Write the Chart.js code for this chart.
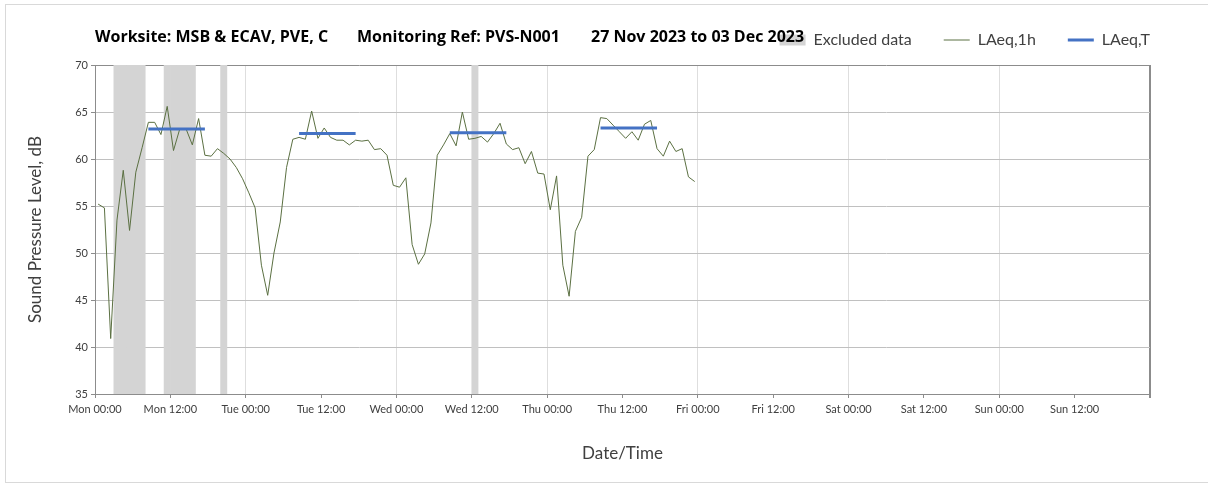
<!DOCTYPE html>
<html>
<head>
<meta charset="utf-8">
<script src="https://cdn.jsdelivr.net/npm/chart.js@4.4.0/dist/chart.umd.min.js"></script>
<style>
  html, body { margin: 0; padding: 0; background: #fff; }
  #wrap { position: relative; width: 1208px; height: 486px; }
</style>
</head>
<body>
<div id="wrap"><canvas id="chart" width="1208" height="486"></canvas></div>
<script>
// ---- data ----
const titleParts = ["Worksite: MSB & ECAV, PVE, C", "Monitoring Ref: PVS-N001", "27 Nov 2023 to 03 Dec 2023"];

const tickLabels = ["Mon 00:00", "Mon 12:00", "Tue 00:00", "Tue 12:00", "Wed 00:00", "Wed 12:00",
  "Thu 00:00", "Thu 12:00", "Fri 00:00", "Fri 12:00", "Sat 00:00", "Sat 12:00",
  "Sun 00:00", "Sun 12:00", ""];

// hourly LAeq,1h (first value sits at 00:30 on Monday)
const firstHour = 0.5;
const laeq1h = [
  55.2, 54.8, 40.9, 53.5, 58.8, 52.4, 58.6, 61.2, 63.9, 63.9,
  62.6, 65.6, 60.9, 63.2, 63.2, 61.5, 64.3, 60.4, 60.3, 61.1,
  60.6, 60.0, 59.1, 57.9, 56.4, 54.8, 48.7, 45.5, 50.0, 53.3,
  59.1, 62.1, 62.3, 62.1, 65.1, 62.2, 63.3, 62.3, 62.0, 62.0,
  61.5, 62.0, 61.9, 62.0, 61.0, 61.1, 60.4, 57.2, 57.0, 58.0,
  50.9, 48.8, 49.9, 53.2, 60.4, 61.5, 62.7, 61.4, 65.0, 62.1,
  62.2, 62.4, 61.8, 62.7, 63.8, 61.6, 61.0, 61.2, 59.5, 60.8,
  58.5, 58.4, 54.6, 58.2, 48.7, 45.4, 52.3, 53.8, 60.3, 61.0,
  64.4, 64.3, 63.6, 62.9, 62.2, 62.9, 62.0, 63.7, 64.1, 61.1,
  60.3, 61.9, 60.8, 61.1, 58.1, 57.6
];

// LAeq,T over each daytime period (hour index of first / last hourly value)
const periodStart = [8, 32, 56, 80];
const periodEnd = [17, 41, 65, 89];
const laeqT = [63.2, 62.7, 62.8, 63.3];

// hours flagged as excluded
const excludedHours = [3, 4, 5, 6, 7, 11, 12, 13, 14, 15, 20, 60];

const yMin = 35, yMax = 70;

// ---- build datasets ----
const lineData = laeq1h.map((v, i) => ({ x: firstHour + i, y: v }));

const periodData = [];
laeqT.forEach((v, i) => {
  periodData.push({ x: periodStart[i] + firstHour, y: v });
  periodData.push({ x: periodEnd[i] + firstHour, y: v });
  periodData.push({ x: periodEnd[i] + 1, y: null });
});

const excludedData = excludedHours.map(h => ({ x: h + 0.5, y: [yMin, yMax] }));

const legendStyles = ["rect", "line", "line"];

const tickVal = c => (c.tick ? c.tick.value : null);

// white card with a faint frame
const framePlugin = {
  id: "frame",
  beforeDraw(chart) {
    const ctx = chart.ctx;
    ctx.save();
    ctx.fillStyle = "#fff";
    ctx.fillRect(0, 0, chart.width, chart.height);
    ctx.strokeStyle = "#d9d9d9";
    ctx.lineWidth = 1;
    ctx.strokeRect(5.5, 4.5, chart.width, chart.height - 8);
    ctx.restore();
  }
};

// the heading, written on top of the legend like in the original
const titleX = [95, 357, 591];
const headingPlugin = {
  id: "heading",
  afterDraw(chart) {
    const ctx = chart.ctx;
    ctx.save();
    ctx.font = "bold 16px 'Open Sans'";
    ctx.fillStyle = "#000";
    ctx.textBaseline = "middle";
    titleParts.forEach((t, i) => ctx.fillText(t, titleX[i], 37));
    ctx.restore();
  }
};

new Chart(document.getElementById("chart"), {
  type: "line",
  data: {
    datasets: [
      {
        type: "bar",
        label: "Excluded data",
        data: excludedData,
        backgroundColor: "#d4d4d4",
        borderWidth: 0,
        barPercentage: 1,
        categoryPercentage: 1,
        order: 3
      },
      {
        label: "LAeq,1h",
        data: lineData,
        borderColor: "#5b7042",
        borderWidth: 1,
        pointRadius: 0,
        tension: 0,
        order: 2
      },
      {
        label: "LAeq,T",
        data: periodData,
        borderColor: "#4472c4",
        borderWidth: 3,
        pointRadius: 0,
        spanGaps: false,
        borderCapStyle: "butt",
        order: 1
      }
    ]
  },
  options: {
    responsive: false,
    animation: false,
    layout: { padding: { left: 10, right: 26, top: 0, bottom: 6 } },
    plugins: {
      tooltip: { enabled: false },
      legend: {
        position: "top",
        align: "end",
        labels: {
          usePointStyle: true,
          pointStyleWidth: 26,
          boxHeight: 11,
          padding: 32,
          color: "#404040",
          font: { family: "Lato", size: 16 },
          sort: (a, b) => a.datasetIndex - b.datasetIndex,
          generateLabels(chart) {
            const items = Chart.defaults.plugins.legend.labels.generateLabels(chart);
            items.forEach(it => { it.pointStyle = legendStyles[it.datasetIndex]; });
            return items;
          }
        }
      }
    },
    scales: {
      x: {
        type: "linear",
        min: 0,
        max: 168,
        offset: false,
        afterFit: s => { s.height = 86; },
        ticks: {
          stepSize: 12,
          autoSkip: false,
          maxRotation: 0,
          padding: 5,
          color: "#404040",
          font: { family: "Lato", size: 11 },
          callback: v => tickLabels[v / 12]
        },
        grid: {
          offset: false,
          color: c => {
            const v = tickVal(c);
            if (v === 168) return "#8c8c8c";
            return v !== null && v % 24 === 0 ? "#dedede" : "rgba(0,0,0,0)";
          },
          lineWidth: c => (tickVal(c) === 168 ? 2 : 1),
          tickColor: "#8c8c8c",
          tickLength: 4
        },
        border: { color: "#8c8c8c", width: 1 },
        title: {
          display: true,
          text: "Date/Time",
          color: "#404040",
          font: { family: "Lato", size: 17 },
          padding: { top: 0, bottom: 16 }
        }
      },
      xTop: {
        type: "linear",
        position: "top",
        afterFit: s => { s.height = 7; },
        ticks: { display: false },
        grid: { display: false, drawTicks: false },
        border: { display: false }
      },
      yRight: {
        type: "linear",
        position: "right",
        afterFit: s => { s.width = 32; },
        ticks: { display: false },
        grid: { display: false, drawTicks: false },
        border: { display: false }
      },
      y: {
        min: yMin,
        max: yMax,
        afterFit: s => { s.width = 85; },
        ticks: {
          stepSize: 5,
          padding: 3,
          color: "#404040",
          font: { family: "Lato", size: 11 }
        },
        grid: {
          color: c => (tickVal(c) === yMax ? "#8c8c8c" : "#c0c0c0"),
          tickColor: "#8c8c8c",
          tickLength: 4
        },
        border: { color: "#8c8c8c", width: 1 },
        title: {
          display: true,
          text: "Sound Pressure Level, dB",
          color: "#404040",
          font: { family: "Lato", size: 17 },
          padding: { top: 15, bottom: 0 }
        }
      }
    }
  },
  plugins: [framePlugin, headingPlugin]
});
</script>
</body>
</html>
